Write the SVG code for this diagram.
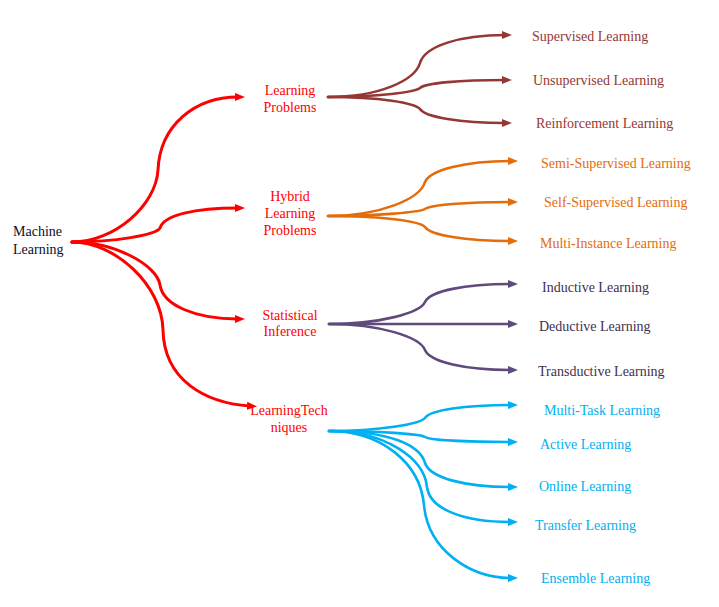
<svg xmlns="http://www.w3.org/2000/svg" width="719" height="607" viewBox="0 0 719 607">
<style>
text{font-family:"Liberation Serif","Times New Roman",serif;font-size:14px}
.c{fill:none;stroke-width:2.6;stroke-linecap:round}
.r{stroke:#FF0000;stroke-width:3}
.b{stroke:#953735}
.o{stroke:#E46C0A}
.p{stroke:#604A7B}
.s{stroke:#00B0F0}
</style>
<defs>
<marker id="mr" viewBox="0 0 10 8" markerWidth="10" markerHeight="8" refX="3" refY="4" orient="auto" markerUnits="userSpaceOnUse"><path d="M0,0L10,4L0,8z" fill="#FF0000"/></marker>
<marker id="mb" viewBox="0 0 10 8" markerWidth="10" markerHeight="8" refX="3" refY="4" orient="auto" markerUnits="userSpaceOnUse"><path d="M0,0L10,4L0,8z" fill="#953735"/></marker>
<marker id="mo" viewBox="0 0 10 8" markerWidth="10" markerHeight="8" refX="3" refY="4" orient="auto" markerUnits="userSpaceOnUse"><path d="M0,0L10,4L0,8z" fill="#E46C0A"/></marker>
<marker id="mp" viewBox="0 0 10 8" markerWidth="10" markerHeight="8" refX="3" refY="4" orient="auto" markerUnits="userSpaceOnUse"><path d="M0,0L10,4L0,8z" fill="#604A7B"/></marker>
<marker id="ms" viewBox="0 0 10 8" markerWidth="10" markerHeight="8" refX="3" refY="4" orient="auto" markerUnits="userSpaceOnUse"><path d="M0,0L10,4L0,8z" fill="#00B0F0"/></marker>
</defs>
<g id="connectors">
<path class="c r" marker-end="url(#mr)" d="M72,242 C115,242 156,205 158,170 C160,125 195,97 238,97"/>
<path class="c r" marker-end="url(#mr)" d="M72,242 C115,242 156,235 160,228 C164,215 195,208 238,208"/>
<path class="c r" marker-end="url(#mr)" d="M72,242 C115,242 157,265 160,285 C163,305 195,319 238,319"/>
<path class="c r" marker-end="url(#mr)" d="M72,242 C115,242 162,285 163,330 C164,380 205,403 250,406"/>
<path class="c b" marker-end="url(#mb)" d="M328,97 C380,97 415,80 420,63 C425,46 460,35 505,35"/>
<path class="c b" marker-end="url(#mb)" d="M328,97 C380,97 415,92 420,88 C425,83 460,80 505,80"/>
<path class="c b" marker-end="url(#mb)" d="M328,97 C380,97 415,103 420,109 C425,117 460,123 505,123"/>
<path class="c o" marker-end="url(#mo)" d="M328,216 C380,216 420,199 425,182 C430,170 465,161 511,161"/>
<path class="c o" marker-end="url(#mo)" d="M328,216 C380,216 420,212 425,209 C430,205 465,202 511,202"/>
<path class="c o" marker-end="url(#mo)" d="M328,216 C380,216 420,221 425,227 C430,235 465,241 511,241"/>
<path class="c p" marker-end="url(#mp)" d="M329,324 C380,324 420,313 425,302 C430,291 465,284 511,284"/>
<path class="c p" marker-end="url(#mp)" d="M329,324 L511,324"/>
<path class="c p" marker-end="url(#mp)" d="M329,324 C380,324 420,337 425,350 C430,362 465,370 511,370"/>
<path class="c s" marker-end="url(#ms)" d="M329,431 C380,431 420,424 425,418 C430,410 465,405 511,405"/>
<path class="c s" marker-end="url(#ms)" d="M329,431 C380,431 420,434 425,437 C430,440 465,442 511,442"/>
<path class="c s" marker-end="url(#ms)" d="M329,431 C390,431 420,445 425,463 C430,478 465,487 511,487"/>
<path class="c s" marker-end="url(#ms)" d="M329,431 C385,431 424,458 427,487 C430,510 465,522 511,522"/>
<path class="c s" marker-end="url(#ms)" d="M329,431 C380,431 420,462 424,505 C428,550 470,578 511,578"/>
</g>
<g id="n-ml"><text x="13" y="236" fill="#0D0D2B">Machine</text><text x="13" y="254" fill="#0D0D2B">Learning</text></g>
<g id="n-lp" fill="#FF0000" text-anchor="middle"><text x="290" y="95">Learning</text><text x="290" y="112">Problems</text></g>
<g id="n-hlp" fill="#FF0000" text-anchor="middle"><text x="290" y="201">Hybrid</text><text x="290" y="218">Learning</text><text x="290" y="235">Problems</text></g>
<g id="n-si" fill="#FF0000" text-anchor="middle"><text x="290" y="320">Statistical</text><text x="290" y="336">Inference</text></g>
<g id="n-lt" fill="#FF0000" text-anchor="middle"><text x="289" y="415">LearningTech</text><text x="289" y="432">niques</text></g>
<g id="n-sup" fill="#953735"><text x="532" y="41">Supervised Learning</text></g>
<g id="n-unsup" fill="#953735"><text x="533" y="85">Unsupervised Learning</text></g>
<g id="n-reinf" fill="#953735"><text x="536" y="128">Reinforcement Learning</text></g>
<g id="n-semi" fill="#E46C0A"><text x="541" y="168">Semi-Supervised Learning</text></g>
<g id="n-self" fill="#E46C0A"><text x="544" y="207">Self-Supervised Learning</text></g>
<g id="n-mi" fill="#E46C0A"><text x="540" y="248">Multi-Instance Learning</text></g>
<g id="n-ind" fill="#403152"><text x="542" y="292">Inductive Learning</text></g>
<g id="n-ded" fill="#403152"><text x="539" y="331">Deductive Learning</text></g>
<g id="n-trans" fill="#403152"><text x="538" y="376">Transductive Learning</text></g>
<g id="n-mt" fill="#00B0F0"><text x="544" y="415">Multi-Task Learning</text></g>
<g id="n-act" fill="#00B0F0"><text x="540" y="449">Active Learning</text></g>
<g id="n-onl" fill="#00B0F0"><text x="539" y="491">Online Learning</text></g>
<g id="n-tra" fill="#00B0F0"><text x="535" y="530">Transfer Learning</text></g>
<g id="n-ens" fill="#00B0F0"><text x="541" y="583">Ensemble Learning</text></g>
</svg>
